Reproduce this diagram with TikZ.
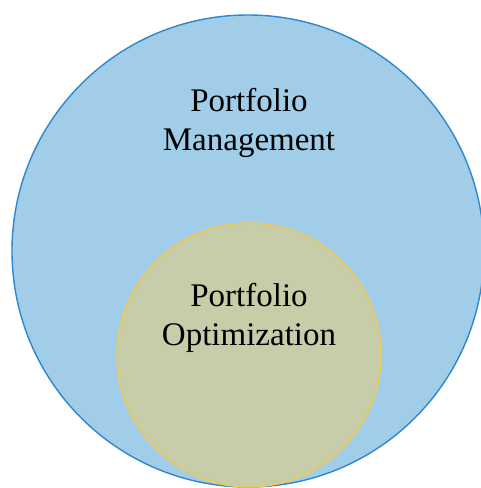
\documentclass[tikz,border=0pt]{standalone}
\usepackage{fontspec}
\setmainfont{Liberation Serif}
\definecolor{outerfill}{HTML}{A2CDE8}
\definecolor{outerline}{HTML}{2E88CC}
\definecolor{innerfill}{HTML}{C7CDA8}
\definecolor{innerline}{HTML}{F0C94E}
\begin{document}
\begin{tikzpicture}[x=1pt,y=-1pt,
  outerset/.style={circle, fill=outerfill, draw=outerline, line width=1.4pt, minimum size=472pt, inner sep=0pt},
  innerset/.style={circle, fill=innerfill, draw=innerline, line width=1.4pt, minimum size=264pt, inner sep=0pt},
  setlabel/.style={align=center, text=black, inner sep=0pt,
    font=\fontsize{33pt}{39pt}\selectfont}]
  \useasboundingbox (0,0) rectangle (481,488);
  \fill[white] (0,0) rectangle (481,488);
  \node[outerset] (pm) at (248,251) {};
  \node[innerset] (po) at (249,355) {};
  \node[setlabel] (pmlabel) at (249,122.5) {Portfolio\\Management};
  \node[setlabel] (polabel) at (249,317.5) {Portfolio\\Optimization};
\end{tikzpicture}
\end{document}
